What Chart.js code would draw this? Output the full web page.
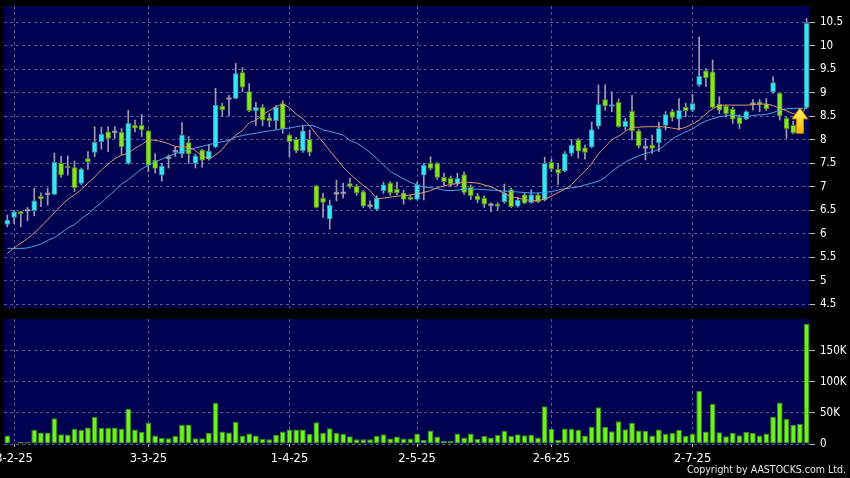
<!DOCTYPE html>
<html>
<head>
<meta charset="utf-8">
<script src="https://cdn.jsdelivr.net/npm/chart.js@4.4.1/dist/chart.umd.min.js"></script>
<style>
  html, body { margin: 0; padding: 0; background: #000; }
  #wrap { position: relative; width: 850px; height: 478px; overflow: hidden; background: #000; }
  #priceBox { position: absolute; left: 0; top: 0; width: 850px; height: 316px; }
  #volBox { position: absolute; left: 0; top: 316px; width: 850px; height: 162px; }
  #copy { position: absolute; right: 4px; top: 463px; font: 10.5px "DejaVu Sans Condensed", "DejaVu Sans", sans-serif; color: #e6e6e6; white-space: nowrap; }
</style>
</head>
<body>
<div id="wrap">
  <div id="priceBox"><canvas id="priceChart"></canvas></div>
  <div id="volBox"><canvas id="volChart"></canvas></div>
  <div id="copy">Copyright by AASTOCKS.com Ltd.</div>
</div>
<script>
// trading days, 28 Jan 2025 - 25 Jul 2025
const dates = [
  '28-1-25',
  '3-2-25','4-2-25','5-2-25','6-2-25','7-2-25','10-2-25','11-2-25','12-2-25','13-2-25','14-2-25',
  '17-2-25','18-2-25','19-2-25','20-2-25','21-2-25','24-2-25','25-2-25','26-2-25','27-2-25','28-2-25',
  '3-3-25','4-3-25','5-3-25','6-3-25','7-3-25','10-3-25','11-3-25','12-3-25','13-3-25','14-3-25',
  '17-3-25','18-3-25','19-3-25','20-3-25','21-3-25','24-3-25','25-3-25','26-3-25','27-3-25','28-3-25','31-3-25',
  '1-4-25','2-4-25','3-4-25','7-4-25','8-4-25','9-4-25','10-4-25','11-4-25','14-4-25','15-4-25',
  '16-4-25','17-4-25','22-4-25','23-4-25','24-4-25','25-4-25','28-4-25','29-4-25','30-4-25',
  '2-5-25','6-5-25','7-5-25','8-5-25','9-5-25','12-5-25','13-5-25','14-5-25','15-5-25','16-5-25',
  '19-5-25','20-5-25','21-5-25','22-5-25','23-5-25','26-5-25','27-5-25','28-5-25','29-5-25','30-5-25',
  '2-6-25','3-6-25','4-6-25','5-6-25','6-6-25','9-6-25','10-6-25','11-6-25','12-6-25','13-6-25',
  '16-6-25','17-6-25','18-6-25','19-6-25','20-6-25','23-6-25','24-6-25','25-6-25','26-6-25','27-6-25','30-6-25',
  '2-7-25','3-7-25','4-7-25','7-7-25','8-7-25','9-7-25','10-7-25','11-7-25',
  '14-7-25','15-7-25','16-7-25','17-7-25','18-7-25','21-7-25','22-7-25','23-7-25','24-7-25','25-7-25'
];

const tickDates = ['3-2-25', '3-3-25', '1-4-25', '2-5-25', '2-6-25', '2-7-25'];
const priceTicks = [4.5, 5, 5.5, 6, 6.5, 7, 7.5, 8, 8.5, 9, 9.5, 10, 10.5];
const volumeTicks = [0, 50, 100, 150];

const opens = [
  6.2, 6.35, 6.47, 6.48, 6.49, 6.8, 6.83, 6.84, 7.5, 7.44,
  7.41, 7.07, 7.6, 7.73, 7.96, 8.17, 8.15, 8.16, 7.5, 8.31,
  8.31, 8.19, 7.57, 7.25, 7.6, 7.74, 7.7, 7.94, 7.5, 7.78,
  7.59, 7.85, 8.72, 8.86, 8.88, 9.43, 9.03, 8.62, 8.69, 8.47,
  8.41, 8.77, 8.1, 8.01, 7.77, 8.01, 7.02, 6.76, 6.31, 6.84,
  6.85, 7.07, 7.01, 6.9, 6.58, 6.52, 6.92, 7.08, 6.95, 6.87,
  6.78, 6.73, 7.25, 7.5, 7.5, 7.2, 7.18, 7.06, 7.26, 6.99,
  6.81, 6.76, 6.6, 6.63, 6.68, 6.94, 6.59, 6.83, 6.66, 6.83,
  6.72, 7.52, 7.37, 7.34, 7.71, 8.0, 7.83, 7.85, 8.29, 8.86,
  8.71, 8.8, 8.28, 8.61, 8.19, 7.82, 7.89, 7.94, 8.31, 8.6,
  8.44, 8.69, 8.63, 9.17, 9.47, 9.45, 8.76, 8.72, 8.65, 8.48,
  8.44, 8.75, 8.81, 8.76, 9.02, 8.99, 8.46, 8.31, 8.3, 8.69
];
const highs = [
  6.4, 6.5, 6.48, 6.56, 6.97, 6.87, 6.97, 7.72, 7.65, 7.66,
  7.55, 7.4, 7.75, 8.28, 8.27, 8.28, 8.28, 8.24, 8.63, 8.42,
  8.54, 8.2, 7.71, 7.5, 7.68, 7.85, 8.37, 8.07, 7.7, 7.8,
  7.9, 9.1, 8.78, 8.95, 9.63, 9.54, 9.2, 8.8, 8.75, 8.56,
  8.73, 8.83, 8.12, 8.05, 8.29, 8.21, 7.03, 6.86, 6.72, 7.14,
  7.08, 7.18, 7.05, 6.93, 6.7, 6.81, 7.1, 7.11, 7.1, 6.93,
  6.82, 7.1, 7.5, 7.64, 7.52, 7.29, 7.23, 7.29, 7.32, 7.04,
  6.86, 6.81, 6.66, 6.66, 7.06, 6.98, 6.78, 6.86, 6.94, 6.86,
  7.63, 7.59, 7.5, 7.75, 8.01, 8.03, 7.89, 8.38, 9.17, 9.17,
  9.02, 8.87, 8.46, 8.95, 8.22, 8.03, 8.1, 8.38, 8.6, 8.65,
  8.88, 8.78, 8.97, 10.19, 9.52, 9.7, 8.92, 8.74, 8.69, 8.53,
  8.62, 8.86, 8.86, 8.88, 9.34, 9.0, 8.49, 8.4, 8.55, 10.58
];
const lows = [
  6.15, 6.22, 6.15, 6.28, 6.38, 6.58, 6.61, 6.83, 7.2, 7.25,
  6.9, 7.05, 7.37, 7.64, 7.8, 7.75, 8.03, 7.68, 7.48, 8.17,
  8.07, 7.32, 7.29, 7.12, 7.4, 7.65, 7.62, 7.5, 7.4, 7.42,
  7.57, 7.83, 8.5, 8.51, 8.87, 9.02, 8.6, 8.31, 8.3, 8.28,
  8.23, 8.14, 7.64, 7.73, 7.73, 7.66, 6.55, 6.35, 6.1, 6.7,
  6.76, 6.97, 6.82, 6.56, 6.54, 6.5, 6.86, 6.82, 6.83, 6.63,
  6.72, 6.72, 6.72, 7.36, 7.16, 7.04, 7.0, 7.02, 6.84, 6.73,
  6.66, 6.56, 6.47, 6.51, 6.65, 6.56, 6.57, 6.64, 6.65, 6.66,
  6.7, 7.32, 7.05, 7.32, 7.66, 7.61, 7.59, 7.83, 8.24, 8.63,
  8.6, 8.27, 8.21, 8.0, 7.83, 7.57, 7.71, 7.75, 8.21, 8.4,
  8.21, 8.49, 8.6, 9.14, 9.13, 8.67, 8.56, 8.49, 8.35, 8.24,
  8.43, 8.63, 8.6, 8.63, 8.99, 8.42, 8.03, 8.13, 8.28, 8.67
];
const closes = [
  6.29, 6.47, 6.43, 6.5, 6.7, 6.74, 6.85, 7.52, 7.25, 7.4,
  6.98, 7.38, 7.53, 7.95, 8.12, 8.03, 8.17, 7.85, 8.35, 8.25,
  8.21, 7.46, 7.39, 7.44, 7.62, 7.76, 8.1, 7.7, 7.66, 7.57,
  7.76, 8.74, 8.64, 8.88, 9.41, 9.12, 8.62, 8.69, 8.42, 8.41,
  8.69, 8.24, 7.96, 7.77, 8.19, 7.73, 6.56, 6.67, 6.61, 6.86,
  6.87, 7.01, 6.87, 6.59, 6.6, 6.76, 7.04, 6.87, 6.87, 6.73,
  6.73, 7.05, 7.46, 7.39, 7.2, 7.11, 7.06, 7.18, 6.88, 6.81,
  6.72, 6.63, 6.62, 6.59, 6.86, 6.58, 6.72, 6.65, 6.83, 6.68,
  7.5, 7.38, 7.29, 7.71, 7.89, 7.76, 7.73, 8.22, 8.75, 8.72,
  8.75, 8.28, 8.4, 8.19, 7.87, 7.84, 7.82, 8.24, 8.54, 8.48,
  8.63, 8.62, 8.77, 9.36, 9.32, 8.69, 8.63, 8.56, 8.44, 8.34,
  8.6, 8.77, 8.76, 8.66, 9.22, 8.51, 8.24, 8.15, 8.42, 10.48
];

// moving averages as drawn (orange short, blue long)
const maShort = [
  5.58, 5.7, 5.8, 5.9, 6.02, 6.15, 6.3, 6.45, 6.6, 6.73,
  6.83, 6.94, 7.08, 7.21, 7.36, 7.48, 7.6, 7.67, 7.72, 7.82,
  7.9, 7.99, 7.99, 7.96, 7.92, 7.86, 7.85, 7.84, 7.77, 7.66,
  7.61, 7.68, 7.8, 7.97, 8.1, 8.2, 8.36, 8.42, 8.53, 8.62,
  8.7, 8.76, 8.68, 8.55, 8.45, 8.3, 8.12, 7.95, 7.77, 7.6,
  7.42, 7.28, 7.15, 7.03, 6.92, 6.76, 6.76, 6.78, 6.8, 6.81,
  6.83, 6.85, 6.88, 6.92, 6.98, 7.02, 7.05, 7.07, 7.1, 7.09,
  7.08, 7.04, 7.0, 6.93, 6.86, 6.8, 6.76, 6.73, 6.71, 6.71,
  6.74, 6.8, 6.88, 6.95, 7.05, 7.2, 7.33, 7.5, 7.7, 7.85,
  8.0, 8.08, 8.18, 8.26, 8.27, 8.28, 8.28, 8.28, 8.27, 8.25,
  8.23, 8.27, 8.34, 8.42, 8.55, 8.66, 8.73, 8.74, 8.74, 8.74,
  8.74, 8.75, 8.76, 8.76, 8.73, 8.67, 8.62, 8.56, 8.54, 8.7
];
const maLong = [
  5.69, 5.69, 5.69, 5.7, 5.74, 5.78, 5.86, 5.92, 6.02, 6.12,
  6.2, 6.32, 6.42, 6.55, 6.66, 6.8, 6.92, 7.06, 7.15, 7.27,
  7.38, 7.46, 7.53, 7.59, 7.65, 7.71, 7.75, 7.79, 7.83, 7.86,
  7.9, 7.93, 7.96, 7.99, 8.06, 8.09, 8.12, 8.14, 8.17, 8.19,
  8.21, 8.24, 8.25, 8.28, 8.3, 8.31, 8.28, 8.21, 8.18, 8.14,
  8.1, 7.99, 7.93, 7.84, 7.73, 7.6, 7.46, 7.33, 7.25, 7.17,
  7.1, 7.04, 7.0, 6.98, 6.96, 6.93, 6.92, 6.93, 6.95, 6.95,
  6.95, 6.94, 6.93, 6.92, 6.91, 6.9, 6.89, 6.88, 6.87, 6.87,
  6.88, 6.9, 6.93, 6.96, 6.98, 7.0, 7.04, 7.08, 7.12, 7.2,
  7.33, 7.43, 7.52, 7.6, 7.66, 7.71, 7.75, 7.8, 7.9, 8.02,
  8.1, 8.17, 8.23, 8.33, 8.4, 8.45, 8.49, 8.51, 8.53, 8.51,
  8.49, 8.52, 8.53, 8.54, 8.58, 8.63, 8.66, 8.67, 8.67, 8.67
];

// volume, thousands of shares
const volumes = [
  13.6, 1.6, 3.3, 3.3, 22.8, 18.5, 18.5, 41.3, 15.8, 15.2,
  24.5, 22.8, 26.6, 43.5, 26.1, 26.1, 26.6, 25, 56.5, 23.4,
  19.6, 34.2, 13.6, 9.8, 9.2, 13, 31, 31.5, 9.2, 9.2,
  17.9, 66.3, 20.1, 18.5, 35.9, 13.6, 16.8, 13.6, 8.2, 7.6,
  14.7, 20.1, 23.4, 23.4, 23.4, 16.3, 34.8, 17.9, 25.5, 17.9,
  16.3, 12.5, 7.6, 7.6, 7.6, 13, 15.8, 8.7, 12, 8.7,
  8.7, 16.3, 6.5, 21.7, 12, 4.9, 4.9, 16.8, 10.3, 16.8,
  8.2, 13, 10.3, 14.7, 21.2, 13, 15.8, 14.1, 14.7, 10.3,
  60.9, 24.5, 6.5, 25, 24.5, 22.8, 13.6, 27.7, 59.2, 27.2,
  20.7, 36.4, 23.9, 34.2, 21.7, 21.2, 13.6, 23.4, 16.3, 17.9,
  22.8, 13, 16.3, 85.3, 20.1, 64.7, 19, 12.5, 17.9, 14.1,
  19.6, 17.9, 13.6, 16.8, 44, 66.8, 40.8, 31, 32.1, 193
];

// yellow marker arrow
const arrowIndex = 118;
const arrowTip = 8.68;
const arrowBase = 8.14;

const PLOT_BG = '#000050';
const GRID = '#5a5a92';
const TICK_FONT = { family: '"DejaVu Sans Condensed", "DejaVu Sans", sans-serif', size: 11.5 };
const X_FONT = { family: '"DejaVu Sans", sans-serif', size: 11.5 };

const UP = '#36e6f4', DOWN = '#86e426', FLAT = '#b4b4bc';
const UP_EDGE = '#2c8ca0', DOWN_EDGE = '#4f8a1c', FLAT_EDGE = '#8a8a92';

const plotBg = {
  id: 'plotBg',
  beforeDraw(chart) {
    const { ctx, chartArea: a } = chart;
    ctx.save();
    ctx.fillStyle = PLOT_BG;
    ctx.fillRect(a.left, a.top, a.width, a.height);
    ctx.restore();
  }
};

const arrowMark = {
  id: 'arrowMark',
  afterDatasetsDraw(chart) {
    const { ctx } = chart;
    const x = chart.scales.x.getPixelForValue(arrowIndex);
    const top = chart.scales.y.getPixelForValue(arrowTip);
    const bot = chart.scales.y.getPixelForValue(arrowBase);
    const headW = 8, headH = 11, shaftW = 3.5;
    ctx.save();
    const g = ctx.createLinearGradient(0, top, 0, bot);
    g.addColorStop(0, '#fff56a');
    g.addColorStop(1, '#ffb400');
    ctx.beginPath();
    ctx.moveTo(x, top);
    ctx.lineTo(x + headW, top + headH);
    ctx.lineTo(x + shaftW, top + headH);
    ctx.lineTo(x + shaftW, bot);
    ctx.lineTo(x - shaftW, bot);
    ctx.lineTo(x - shaftW, top + headH);
    ctx.lineTo(x - headW, top + headH);
    ctx.closePath();
    ctx.fillStyle = g;
    ctx.fill();
    ctx.strokeStyle = '#c98a00';
    ctx.lineWidth = 1;
    ctx.stroke();
    ctx.restore();
  }
};

function keepDateTicks(axis) {
  axis.ticks = axis.ticks.filter(t => tickDates.includes(dates[t.value]));
}

// stop label overflow from pushing the plot area around
function noPad(axis) {
  axis.paddingLeft = 0;
  axis.paddingRight = 0;
  axis.paddingTop = 0;
  axis.paddingBottom = 0;
}

const bodyColor = opens.map((o, i) => {
  if (Math.abs(closes[i] - o) < 0.03) return FLAT;
  return closes[i] > o ? UP : DOWN;
});
const bodyEdge = opens.map((o, i) => {
  if (Math.abs(closes[i] - o) < 0.03) return FLAT_EDGE;
  return closes[i] > o ? UP_EDGE : DOWN_EDGE;
});

new Chart(document.getElementById('priceChart'), {
  type: 'bar',
  data: {
    labels: dates,
    datasets: [
      {
        type: 'line',
        data: maShort,
        borderColor: '#e39a70',
        borderWidth: 1,
        pointRadius: 0,
        tension: 0.3,
        order: 0
      },
      {
        type: 'line',
        data: maLong,
        borderColor: '#46a8e8',
        borderWidth: 1,
        pointRadius: 0,
        tension: 0.3,
        order: 0
      },
      {
        data: opens.map((o, i) => [Math.min(o, closes[i]), Math.max(o, closes[i])]),
        backgroundColor: bodyColor,
        borderColor: bodyEdge,
        borderWidth: 1,
        borderSkipped: false,
        barThickness: 5,
        minBarLength: 2,
        grouped: false,
        order: 1
      },
      {
        data: lows.map((l, i) => [l, highs[i]]),
        backgroundColor: '#9c9cac',
        borderWidth: 0,
        barThickness: 1,
        grouped: false,
        order: 2
      }
    ]
  },
  options: {
    responsive: true,
    maintainAspectRatio: false,
    animation: false,
    events: [],
    layout: { padding: { left: 4, top: 6, right: 0, bottom: 8 }, autoPadding: false },
    plugins: { legend: { display: false }, tooltip: { enabled: false } },
    scales: {
      x: {
        afterBuildTicks: keepDateTicks,
        afterFit: axis => { noPad(axis); axis.height = 0; },
        ticks: { display: false, autoSkip: false },
        grid: { color: GRID, drawTicks: false, offset: false },
        border: { display: false, dash: [3, 3] }
      },
      y: {
        position: 'right',
        min: 4.42,
        max: 10.85,
        afterBuildTicks: axis => { axis.ticks = priceTicks.map(v => ({ value: v })); },
        afterFit: axis => { noPad(axis); axis.width = 40; },
        ticks: { color: '#ffffff', font: TICK_FONT, padding: 5, callback: v => String(v) },
        grid: { color: GRID, tickColor: '#bdbdbd', tickLength: 5, tickBorderDash: [] },
        border: { display: false, dash: [3, 3] }
      }
    }
  },
  plugins: [plotBg, arrowMark]
});

new Chart(document.getElementById('volChart'), {
  type: 'bar',
  data: {
    labels: dates,
    datasets: [{
      data: volumes,
      backgroundColor: '#6ef21e',
      borderColor: '#3a8c12',
      borderWidth: 1,
      borderSkipped: false,
      categoryPercentage: 1,
      barPercentage: 0.86
    }]
  },
  options: {
    responsive: true,
    maintainAspectRatio: false,
    animation: false,
    events: [],
    layout: { padding: { left: 4, top: 3, right: 0, bottom: 0 }, autoPadding: false },
    plugins: { legend: { display: false }, tooltip: { enabled: false } },
    scales: {
      x: {
        afterBuildTicks: keepDateTicks,
        afterFit: axis => { noPad(axis); axis.height = 34; },
        ticks: { color: '#ffffff', font: X_FONT, autoSkip: false, maxRotation: 0, padding: 5 },
        grid: { color: GRID, tickColor: '#bdbdbd', tickLength: 3, tickBorderDash: [], offset: false },
        border: { display: false, dash: [3, 3] }
      },
      y: {
        position: 'right',
        min: 0,
        max: 201,
        afterBuildTicks: axis => { axis.ticks = volumeTicks.map(v => ({ value: v })); },
        afterFit: axis => { noPad(axis); axis.width = 40; },
        ticks: { color: '#ffffff', font: TICK_FONT, padding: 5, callback: v => (v === 0 ? '0' : v + 'K') },
        grid: { color: GRID, tickColor: '#bdbdbd', tickLength: 5, tickBorderDash: [] },
        border: { display: false, dash: [3, 3] }
      }
    }
  },
  plugins: [plotBg]
});
</script>
</body>
</html>
